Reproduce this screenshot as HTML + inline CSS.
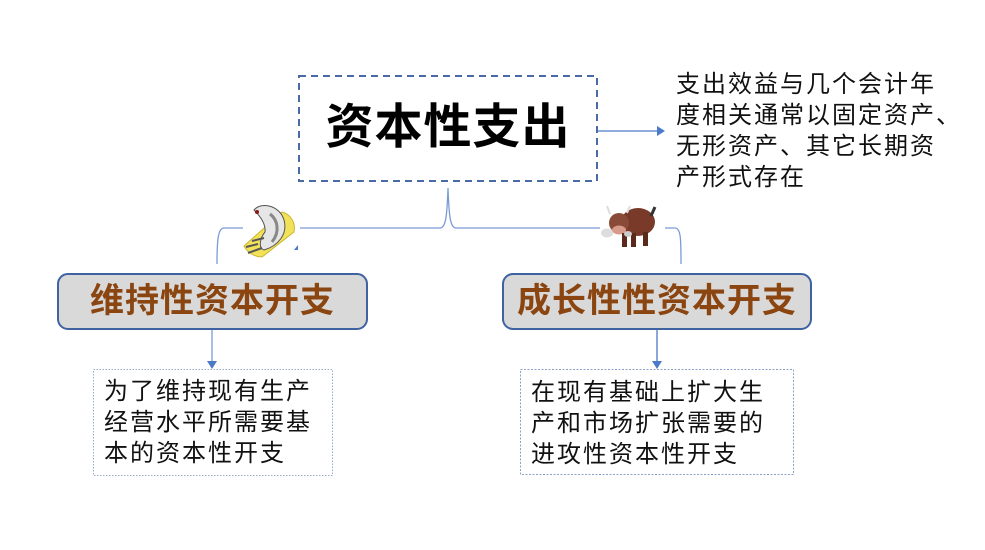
<!DOCTYPE html>
<html><head><meta charset="utf-8">
<style>
html,body{margin:0;padding:0;background:#fff;}
body{width:985px;height:550px;position:relative;overflow:hidden;font-family:"Liberation Sans","Noto Sans CJK SC",sans-serif;}
.t{position:absolute;white-space:nowrap;color:#111;}
.desc{font-size:24px;letter-spacing:2px;line-height:31px;}
.hdr{font-size:34px;font-weight:bold;color:#8a4510;letter-spacing:1px;text-align:center;}
</style></head><body>
<svg width="985" height="550" style="position:absolute;left:0;top:0">
  <!-- main dashed box -->
  <rect x="299" y="76" width="298" height="105" fill="#fff" stroke="#4a6aa5" stroke-width="2" stroke-dasharray="7,5"/>
  <!-- arrow right -->
  <line x1="597" y1="131" x2="657" y2="131" stroke="#4a7ac8" stroke-width="1.3"/>
  <polygon points="657,126 665,131 657,136" fill="#4a7ac8"/>
  <!-- brace -->
  <path d="M217,264 C217,240 218,228 224,228 L243,228" fill="none" stroke="#7a9bd6" stroke-width="1.3"/>
  <path d="M300,228 L440,228 C446,228 447,215 448,188 C449,215 450,228 456,228 L600,228" fill="none" stroke="#7a9bd6" stroke-width="1.3"/>
  <path d="M665,228 L675,228 C681,228 681,240 681,264" fill="none" stroke="#7a9bd6" stroke-width="1.3"/>
  <polygon points="294,250 298,245 298,250" fill="#4a7ac8"/>
  <!-- fish on cushion -->
  <g>
    <path d="M244,246 L282,212 C290,214 296,222 294,232 L262,257 C254,257 247,252 244,246 Z" fill="#f2e25a" stroke="#c9b534" stroke-width="1"/>
    <path d="M254,210 C262,201 280,206 284,220 C288,234 278,246 264,250 C258,248 260,238 265,232 C266,224 260,216 254,210 Z" fill="#e6e6e6" stroke="#555" stroke-width="1"/>
    <path d="M270,214 C278,220 280,232 272,242" fill="none" stroke="#888" stroke-width="3"/>
    <path d="M262,248 L248,253 M258,244 L246,247 M264,238 L252,241" stroke="#555" stroke-width="2"/>
    <circle cx="257" cy="212" r="2" fill="#8b1a1a"/>
  </g>
  <!-- bull -->
  <g>
    <ellipse cx="638" cy="222" rx="17" ry="14" fill="#7a3a2a"/>
    <ellipse cx="619" cy="223" rx="10" ry="10" fill="#8a4a38"/>
    <ellipse cx="619" cy="230" rx="7" ry="4.5" fill="#d89a8a"/>
    <path d="M610,214 L607,206 M627,213 L630,206" stroke="#ddd" stroke-width="2"/>
    <path d="M651,216 L655,207" stroke="#333" stroke-width="3"/>
    <rect x="622" y="233" width="5" height="14" fill="#5a2a1a"/>
    <rect x="631" y="233" width="5" height="14" fill="#5a2a1a"/>
    <rect x="643" y="232" width="5" height="14" fill="#5a2a1a"/>
    <ellipse cx="607" cy="233" rx="6" ry="4.5" fill="#ddd"/>
    <ellipse cx="628" cy="234" rx="4" ry="3" fill="#ccc"/>
  </g>
  <!-- header boxes -->
  <rect x="58" y="274" width="309" height="55" rx="10" ry="10" fill="#d9d9d9" stroke="#3f62a0" stroke-width="2"/>
  <rect x="503" y="274" width="308" height="55" rx="10" ry="10" fill="#d9d9d9" stroke="#3f62a0" stroke-width="2"/>
  <!-- down arrows -->
  <line x1="212" y1="330" x2="212" y2="362" stroke="#7a9bd6" stroke-width="1.3"/>
  <polygon points="207,361 212,369 217,361" fill="#4a7ac8"/>
  <line x1="657" y1="330" x2="657" y2="362" stroke="#4a7ac8" stroke-width="1.3"/>
  <polygon points="652,361 657,369 662,361" fill="#4a7ac8"/>
  <!-- desc boxes -->
  <rect x="93.5" y="369.5" width="239" height="106" fill="#fff" stroke="#9aaccc" stroke-width="1" stroke-dasharray="1.5,1.5"/>
  <rect x="520.5" y="369.5" width="273" height="105" fill="#fff" stroke="#8ea2c8" stroke-width="1" stroke-dasharray="2,1.5"/>
</svg>

<div class="t" style="left:299px;top:98px;width:298px;text-align:center;font-size:48px;font-weight:bold;letter-spacing:1px;line-height:60px;color:#000;">资本性支出</div>

<div class="t desc" style="left:676px;top:69px;">支出效益与几个会计年<br>度相关通常以固定资产、<br>无形资产、其它长期资<br>产形式存在</div>

<div class="t hdr" style="left:58px;top:280px;width:309px;line-height:42px;">维持性资本开支</div>
<div class="t hdr" style="left:503px;top:280px;width:308px;line-height:42px;">成长性性资本开支</div>

<div class="t desc" style="left:104px;top:376px;">为了维持现有生产<br>经营水平所需要基<br>本的资本性开支</div>
<div class="t desc" style="left:531px;top:377px;">在现有基础上扩大生<br>产和市场扩张需要的<br>进攻性资本性开支</div>
</body></html>
